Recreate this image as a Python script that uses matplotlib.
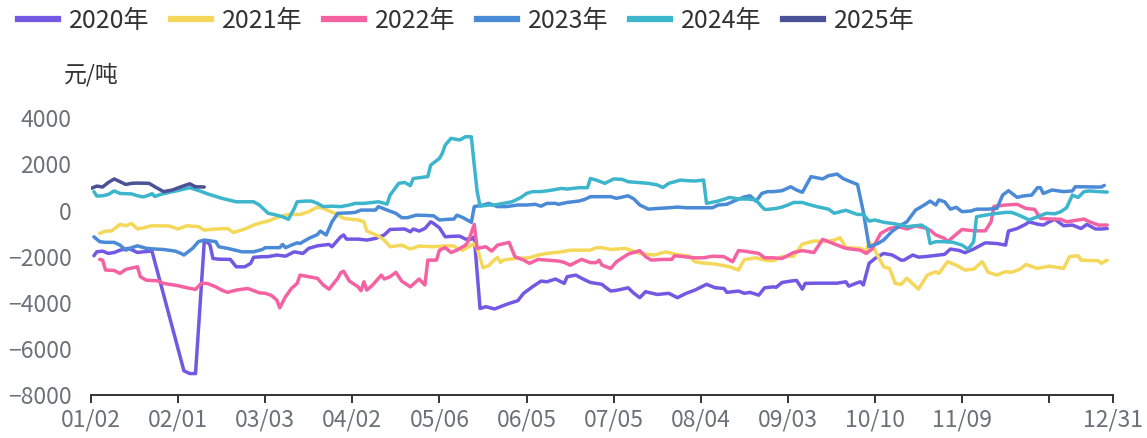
import matplotlib
matplotlib.use("Agg")
import matplotlib.pyplot as plt
from matplotlib.lines import Line2D

plt.rcParams["font.family"] = ["Noto Sans CJK SC", "DejaVu Sans"]

# ── 数据：交易日序号（01/02 = 0）与价差（元/吨） ─────────────────
s2020 = [(1, -1960), (2, -1790), (4, -1760), (6, -1860), (8, -1820), (10, -1720), (13, -1640),
         (16, -1820), (18, -1790), (21, -1760), (32, -6950), (34, -7070), (36, -7070), (39, -1380),
         (40, -1350), (41, -1500), (42, -2080), (44, -2110), (48, -2120), (50, -2440), (53, -2440),
         (55, -2290), (56, -2030), (59, -2000), (61, -2000), (64, -1930), (67, -1980), (70, -1790),
         (73, -1860), (75, -1640), (78, -1530), (82, -1470), (83, -1570), (86, -1140), (87, -1060),
         (88, -1240), (92, -1240), (95, -1280), (98, -1210), (101, -1060), (103, -820), (108, -800),
         (110, -920), (111, -800), (113, -890), (115, -780), (117, -490), (118, -560), (120, -750),
         (122, -1140), (124, -1120), (127, -1110), (129, -1240), (131, -1240), (132, -1140),
         (134, -4250), (136, -4170), (139, -4270), (141, -4170), (144, -4030), (147, -3910),
         (149, -3590), (152, -3310), (155, -3060), (157, -3090), (160, -2970), (163, -3160),
         (164, -2870), (167, -2800), (169, -2940), (172, -3120), (176, -3200), (177, -3310),
         (179, -3490), (181, -3460), (185, -3350), (187, -3590), (189, -3780), (191, -3520),
         (195, -3640), (199, -3590), (202, -3780), (205, -3590), (208, -3450), (212, -3200),
         (215, -3350), (218, -3380), (219, -3550), (223, -3490), (225, -3590), (227, -3550),
         (230, -3670), (232, -3350), (235, -3310), (236, -3330), (238, -3120), (241, -3060),
         (243, -3030), (245, -3410), (246, -3160), (250, -3150), (257, -3150), (260, -3090),
         (261, -3280), (264, -3130), (265, -3090), (266, -3230), (268, -2290), (270, -2080),
         (273, -1860), (276, -1930), (279, -2150), (280, -2150), (283, -1930), (285, -2020),
         (288, -1990), (294, -1900), (296, -1670), (299, -1730), (301, -1830), (304, -1670),
         (308, -1400), (312, -1430), (315, -1500), (316, -890), (319, -780), (322, -590),
         (323, -490), (326, -590), (328, -630), (330, -490), (332, -380), (335, -660), (338, -630),
         (341, -780), (343, -600), (346, -800), (348, -800), (350, -780)]

s2021 = [(3, -990), (5, -890), (7, -890), (10, -600), (12, -660), (14, -560), (16, -800), (18, -750),
         (21, -660), (27, -670), (30, -800), (33, -660), (37, -700), (39, -850), (43, -800), (47, -780),
         (49, -950), (53, -800), (56, -630), (59, -510), (61, -460), (64, -300), (68, -170), (72, -170),
         (75, -50), (78, 150), (80, 90), (84, -120), (87, -340), (92, -410), (94, -490), (95, -890),
         (99, -1110), (101, -1280), (103, -1570), (107, -1500), (110, -1670), (113, -1540),
         (118, -1570), (122, -1530), (125, -1540), (126, -1640), (128, -1720), (132, -1430),
         (133, -1640), (135, -2480), (137, -2390), (138, -2250), (140, -2030), (141, -2250),
         (142, -2150), (146, -2080), (151, -2050), (154, -1930), (157, -1860), (162, -1790),
         (165, -1720), (170, -1720), (172, -1720), (174, -1610), (176, -1610), (179, -1690),
         (184, -1640), (189, -1860), (194, -1930), (198, -1790), (201, -1890), (206, -1980),
         (208, -2220), (211, -2280), (215, -2320), (220, -2440), (223, -2580), (225, -2130),
         (229, -2050), (232, -2150), (235, -2180), (238, -2000), (242, -1980), (245, -1450),
         (249, -1320), (253, -1350), (256, -1280), (258, -1180), (260, -1610), (265, -1640),
         (267, -1760), (268, -1350), (270, -1720), (273, -2440), (275, -2510), (277, -3160),
         (279, -3200), (281, -2940), (285, -3410), (288, -2800), (291, -2650), (292, -2730),
         (295, -2220), (298, -2370), (301, -2580), (304, -2540), (307, -2220), (309, -2680),
         (312, -2800), (315, -2650), (317, -2680), (320, -2540), (322, -2340), (326, -2510),
         (330, -2410), (335, -2510), (337, -2000), (340, -1960), (341, -2150), (347, -2180),
         (348, -2290), (350, -2150)]

s2022 = [(3, -2120), (4, -2150), (5, -2580), (8, -2600), (10, -2730), (12, -2550), (16, -2440),
         (17, -2870), (19, -3020), (23, -3050), (25, -3160), (30, -3260), (33, -3350), (36, -3420),
         (38, -3160), (40, -3160), (43, -3310), (45, -3450), (47, -3550), (50, -3450), (54, -3380),
         (58, -3570), (60, -3590), (62, -3670), (64, -3880), (65, -4220), (67, -3740), (69, -3380),
         (71, -3160), (72, -2800), (75, -2870), (78, -2940), (80, -3230), (82, -3410), (85, -2940),
         (86, -2700), (87, -2630), (89, -3060), (92, -3310), (93, -3480), (94, -3090), (95, -3450),
         (97, -3230), (100, -2800), (101, -2970), (103, -2870), (105, -2680), (107, -3060),
         (110, -3310), (113, -2970), (115, -3230), (116, -2150), (119, -2150), (120, -1720),
         (122, -1610), (124, -1820), (126, -1720), (129, -1500), (130, -1320), (132, -600),
         (133, -1640), (136, -1570), (138, -1760), (140, -1500), (144, -1380), (146, -2000),
         (149, -2150), (151, -2290), (154, -2120), (157, -2150), (161, -2190), (163, -2250),
         (165, -2370), (169, -2120), (172, -2260), (174, -2260), (175, -2150), (176, -2370),
         (179, -2510), (181, -2220), (185, -1890), (189, -1740), (191, -2000), (193, -2150),
         (197, -2120), (200, -2120), (201, -1960), (204, -2000), (208, -2050), (211, -2050),
         (214, -1980), (218, -2000), (221, -2220), (223, -1740), (225, -1760), (230, -1860),
         (232, -2050), (235, -2050), (238, -2080), (242, -1820), (245, -1740), (249, -1820),
         (252, -1250), (256, -1450), (260, -1640), (263, -1690), (265, -1720), (267, -1860),
         (269, -1670), (272, -990), (275, -780), (278, -700), (281, -800), (284, -670), (287, -750),
         (289, -850), (291, -1060), (294, -1210), (295, -1350), (297, -1140), (300, -820),
         (304, -880), (308, -880), (310, -490), (311, 180), (315, 240), (319, 270), (322, 90),
         (325, 50), (327, -340), (331, -370), (334, -380), (336, -490), (339, -430), (342, -370),
         (344, -490), (347, -630), (350, -630)]

s2023 = [(1, -1140), (3, -1350), (5, -1380), (8, -1380), (10, -1500), (12, -1720), (14, -1610),
         (16, -1530), (19, -1640), (22, -1670), (25, -1690), (29, -1760), (31, -1860), (32, -1930),
         (35, -1640), (37, -1350), (39, -1280), (43, -1350), (44, -1570), (47, -1640), (52, -1790),
         (56, -1790), (59, -1690), (60, -1610), (65, -1610), (66, -1470), (67, -1610), (69, -1500),
         (71, -1400), (72, -1430), (75, -1210), (78, -1040), (79, -890), (81, -1060), (83, -490),
         (85, -120), (89, -100), (91, -80), (93, 20), (95, 20), (98, 20), (99, 170), (102, 20),
         (105, -120), (107, -310), (109, -310), (112, -200), (115, -210), (118, -230), (120, -410),
         (123, -380), (125, -370), (126, -200), (128, -300), (131, -510), (132, 170), (135, 240),
         (137, 310), (140, 170), (143, 170), (147, 240), (150, 240), (153, 270), (155, 190),
         (157, 310), (160, 310), (161, 270), (164, 350), (168, 410), (170, 480), (172, 600),
         (176, 600), (179, 600), (181, 530), (185, 640), (187, 500), (189, 240), (192, 60), (195, 90),
         (199, 120), (202, 150), (205, 120), (209, 120), (214, 120), (216, 240), (219, 270),
         (222, 440), (225, 590), (227, 640), (229, 410), (230, 560), (231, 740), (233, 820),
         (235, 820), (238, 860), (241, 1030), (243, 890), (245, 790), (248, 1470), (252, 1370),
         (254, 1510), (257, 1580), (259, 1390), (261, 1280), (264, 1130), (266, -50), (268, -1570),
         (271, -1430), (273, -1280), (276, -890), (279, -630), (281, -490), (284, 20), (287, 240),
         (289, 410), (291, 240), (292, 460), (294, 380), (296, 60), (298, 140), (300, -50),
         (303, -20), (305, 60), (309, 60), (312, 90), (314, 670), (316, 860), (319, 570), (321, 630),
         (324, 670), (326, 990), (327, 990), (328, 740), (331, 890), (335, 820), (338, 850),
         (339, 1030), (342, 1030), (346, 1020), (348, 1020), (349, 1090)]

s2024 = [(1, 820), (2, 630), (4, 640), (6, 700), (8, 850), (10, 740), (12, 730), (14, 720), (16, 640),
         (18, 590), (20, 670), (21, 730), (22, 610), (24, 700), (27, 790), (30, 870), (34, 990),
         (37, 870), (40, 730), (45, 530), (50, 380), (53, 380), (56, 380), (58, 240), (59, 120),
         (61, -120), (63, -170), (66, -270), (68, -380), (70, 90), (71, 380), (74, 410), (76, 410),
         (78, 310), (80, 170), (83, 190), (86, 170), (89, 240), (91, 310), (94, 310), (97, 350),
         (99, 380), (102, 280), (103, 670), (106, 1180), (108, 1220), (110, 1080), (111, 1390),
         (114, 1440), (116, 1470), (117, 1970), (120, 2260), (121, 2480), (122, 2840), (124, 3130),
         (127, 3060), (129, 3200), (131, 3200), (132, 1970), (133, 820), (134, 190), (137, 240),
         (139, 240), (142, 310), (145, 380), (148, 560), (150, 740), (152, 820), (155, 820),
         (159, 890), (162, 960), (164, 930), (168, 990), (171, 990), (172, 1390), (174, 1320),
         (177, 1180), (180, 1370), (183, 1350), (185, 1250), (188, 1220), (192, 1180), (195, 1110),
         (197, 1000), (199, 1180), (203, 1320), (206, 1290), (208, 1280), (211, 1320), (212, 310),
         (216, 410), (220, 570), (223, 500), (226, 500), (229, 460), (231, 170), (232, 50), (233, 50),
         (236, 90), (238, 150), (240, 240), (242, 350), (245, 350), (247, 270), (250, 170), (253, 90),
         (254, 60), (256, -120), (258, -50), (260, 10), (262, -80), (264, -170), (266, -170),
         (268, -460), (270, -410), (273, -510), (276, -560), (279, -630), (281, -700), (284, -660),
         (286, -630), (288, -780), (289, -1430), (291, -1350), (294, -1350), (297, -1380),
         (300, -1500), (302, -1670), (303, -1530), (304, -1350), (305, -270), (308, -200),
         (311, -140), (315, -80), (317, -80), (319, -170), (322, -340), (323, -410), (326, -270),
         (329, -120), (332, -140), (334, -50), (336, 120), (338, 670), (340, 570), (342, 820),
         (344, 850), (347, 820), (350, 800)]

s2025 = [(0, 960), (2, 1060), (4, 1020), (6, 1220), (8, 1370), (10, 1250), (12, 1130), (14, 1180),
         (16, 1190), (20, 1180), (22, 1030), (25, 820), (28, 890), (31, 1030), (34, 1160),
         (36, 1030), (39, 1020)]

years = ["2020年", "2021年", "2022年", "2023年", "2024年", "2025年"]
colors = ["#7159E3", "#F5D85A", "#F562A2", "#4A8AD6", "#3DB5CC", "#4B5196"]
series = [s2020, s2021, s2022, s2023, s2024, s2025]

tick_labels = ["01/02", "02/01", "03/03", "04/02", "05/06", "06/05", "07/05",
               "08/04", "09/03", "10/10", "11/09", "", "12/31"]
last_day = 352
tick_days = list(range(0, 331, 30)) + [last_day]

# ── 图形 ────────────────────────────────────────────────────
W, H = 1147, 438
fig = plt.figure(figsize=(W / 100, H / 100), dpi=100)
ax = fig.add_axes([91 / W, (H - 395) / H, (1113 - 91) / W, (395 - 118.3) / H])

for data, c, name in zip(series, colors, years):
    xs, ys = zip(*data)
    ax.plot(xs, ys, color=c, lw=2.5, label=name, solid_joinstyle="round",
            solid_capstyle="round")

ax.set_xlim(0, last_day)
ax.set_ylim(-8000, 4000)
ax.set_yticks(range(-8000, 4001, 2000))
ax.set_xticks(tick_days)
ax.set_xticklabels(tick_labels)

for side in ("top", "right", "left"):
    ax.spines[side].set_visible(False)
ax.spines["bottom"].set_color("#333333")
ax.spines["bottom"].set_linewidth(1.4)
ax.tick_params(axis="y", length=0, pad=14, labelsize=16.5, labelcolor="#6E7079")
ax.tick_params(axis="x", length=6, width=1.4, color="#333333", pad=4,
               labelsize=16.5, labelcolor="#6E7079")

fig.text(91 / W, 1 - 75 / H, "元/吨", ha="center", va="center",
         fontsize=16.5, color="#333333")

handles = [Line2D([], [], color=c, lw=4.5) for c in colors]
fig.legend(handles, years, loc="center left", bbox_to_anchor=(18 / W, 1 - 21 / H),
           ncol=6, frameon=False, borderpad=0, borderaxespad=0,
           handlelength=1.6, handletextpad=0.45, columnspacing=0.85,
           fontsize=18, labelcolor="#333333")

fig.savefig("out.png", dpi=100)
